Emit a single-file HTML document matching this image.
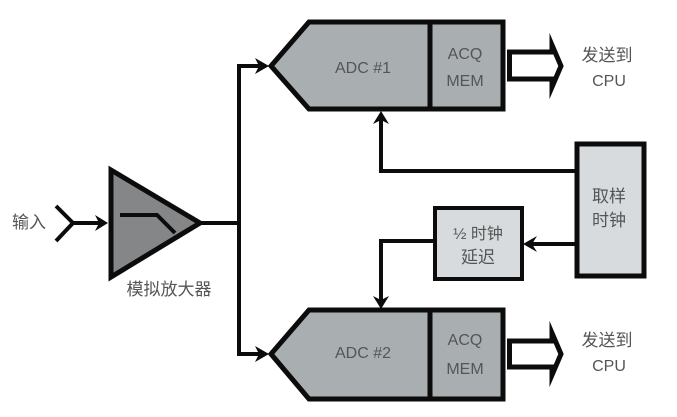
<!DOCTYPE html>
<html><head><meta charset="utf-8"><style>
html,body{margin:0;padding:0;background:#fff;width:677px;height:417px;overflow:hidden}
svg{display:block;filter:blur(0.35px)}
text{font-family:"Liberation Sans","Noto Sans CJK SC",sans-serif;fill:#555;font-size:16px;text-anchor:middle}
.c{font-size:17px}
.l{fill:none;stroke:#0c0c0c;stroke-width:4}
.a{fill:#0c0c0c;stroke:none}
</style></head><body>
<svg width="677" height="417" viewBox="0 0 677 417" xmlns="http://www.w3.org/2000/svg">
<!-- bus -->
<path class="l" d="M200 223H239M262 66H239V354H262"/>
<path class="a" d="M269 66L255 58L259 66L255 74Z"/>
<path class="a" d="M269 354L255 346L259 354L255 362Z"/>
<!-- input -->
<path class="l" d="M56 206L73 223L56 241"/>
<path class="l" d="M73 223H100"/>
<path class="a" d="M108 223L95 215L99 223L95 231Z"/>
<!-- amp -->
<path d="M111 170L200 223L111 277Z" fill="#858687" stroke="#0c0c0c" stroke-width="5"/>
<path class="l" d="M120 215H157L175 233"/>
<!-- ADC1 -->
<path d="M271 66L309 22H503V109H309Z" fill="#a9aeb1" stroke="#0c0c0c" stroke-width="5"/>
<path d="M430 22V109" stroke="#0c0c0c" stroke-width="5"/>
<!-- ADC2 -->
<path d="M271 354L309 310H503V399H309Z" fill="#a9aeb1" stroke="#0c0c0c" stroke-width="5"/>
<path d="M430 310V399" stroke="#0c0c0c" stroke-width="5"/>
<!-- out arrows -->
<path d="M509.500 52H552V45L561 66L552 87V79H509.500Z" fill="#fff" stroke="#0c0c0c" stroke-width="5" stroke-miterlimit="10"/>
<path d="M509.500 341H552V333L561 354L552 375V367H509.500Z" fill="#fff" stroke="#0c0c0c" stroke-width="5" stroke-miterlimit="10"/>
<!-- clock -->
<rect x="577" y="144" width="67" height="132" fill="#d7dbde" stroke="#0c0c0c" stroke-width="5"/>
<rect x="435" y="208" width="87" height="71" fill="#d7dbde" stroke="#0c0c0c" stroke-width="4"/>
<path class="l" d="M575 171H381V118"/>
<path class="a" d="M381 111L373 124L381 120L389 124Z"/>
<path class="l" d="M575 244H530"/>
<path class="a" d="M523 244L537 236L532 244L537 252Z"/>
<path class="l" d="M433 241H381V302"/>
<path class="a" d="M381 309L373 296L381 300L389 296Z"/>
<!-- labels -->
<text class="c" x="29" y="228">输入</text>
<text class="c" x="169" y="295">模拟放大器</text>
<text x="363" y="73">ADC #1</text>
<text x="465" y="59">ACQ</text>
<text x="465" y="86">MEM</text>
<text class="c" x="607" y="61">发送到</text>
<text x="609" y="86">CPU</text>
<text x="363" y="358">ADC #2</text>
<text x="465" y="345">ACQ</text>
<text x="465" y="374">MEM</text>
<text class="c" x="607" y="346">发送到</text>
<text x="609" y="371">CPU</text>
<text class="c" x="609" y="202">取样</text>
<text class="c" x="609" y="226">时钟</text>
<text x="478" y="239">½ 时钟</text>
<text class="c" x="478" y="263">延迟</text>
</svg>
</body></html>
